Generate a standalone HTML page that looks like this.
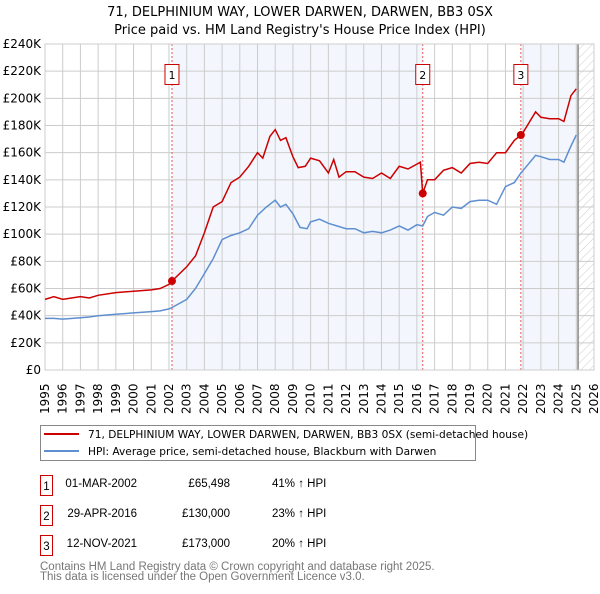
<!DOCTYPE html>
<html><head><meta charset="utf-8"><style>
body{margin:0;background:#fff;font-family:"DejaVu Sans","Liberation Sans",sans-serif;}
svg text{font-family:"DejaVu Sans","Liberation Sans",sans-serif;}
svg text.lib{font-family:"Liberation Sans",sans-serif;}
</style></head><body>
<svg id="chart" width="600" height="590" viewBox="0 0 600 590" xmlns="http://www.w3.org/2000/svg">
<defs><pattern id="hatch" width="6" height="6" patternUnits="userSpaceOnUse" patternTransform="rotate(45)"><line x1="0" y1="0" x2="0" y2="6" stroke="#ccc" stroke-width="1"/></pattern></defs>
<text x="300" y="16" text-anchor="middle" font-size="13">71, DELPHINIUM WAY, LOWER DARWEN, DARWEN, BB3 0SX</text>
<text x="300" y="34" text-anchor="middle" font-size="13">Price paid vs. HM Land Registry's House Price Index (HPI)</text>
<g id="bg"></g><g id="grid"></g><g id="axes"></g><g id="series"></g><g id="markers"></g>
<rect x="40.5" y="425.5" width="435" height="35" fill="#fff" stroke="#888"/>
<line x1="44" y1="434" x2="79" y2="434" stroke="#cc0000" stroke-width="2"/>
<text x="88" y="438" font-size="10.6">71, DELPHINIUM WAY, LOWER DARWEN, DARWEN, BB3 0SX (semi-detached house)</text>
<line x1="44" y1="451" x2="79" y2="451" stroke="#5f8fd0" stroke-width="2"/>
<text x="88" y="455" font-size="10.6">HPI: Average price, semi-detached house, Blackburn with Darwen</text>
<g font-size="11.5">
<rect x="40.5" y="475.5" width="12" height="20" fill="#fff" stroke="#cc0000"/><text class="lib" x="46.5" y="490" text-anchor="middle">1</text>
<text class="lib" x="137" y="487" text-anchor="end">01-MAR-2002</text>
<text class="lib" x="230" y="487" text-anchor="end">£65,498</text>
<text class="lib" x="272" y="487">41% ↑ HPI</text>
<rect x="40.5" y="505.5" width="12" height="20" fill="#fff" stroke="#cc0000"/><text class="lib" x="46.5" y="520" text-anchor="middle">2</text>
<text class="lib" x="137" y="517" text-anchor="end">29-APR-2016</text>
<text class="lib" x="230" y="517" text-anchor="end">£130,000</text>
<text class="lib" x="272" y="517">23% ↑ HPI</text>
<rect x="40.5" y="535.5" width="12" height="20" fill="#fff" stroke="#cc0000"/><text class="lib" x="46.5" y="550" text-anchor="middle">3</text>
<text class="lib" x="137" y="547" text-anchor="end">12-NOV-2021</text>
<text class="lib" x="230" y="547" text-anchor="end">£173,000</text>
<text class="lib" x="272" y="547">20% ↑ HPI</text>
</g>
<text class="lib" x="40" y="570" font-size="11.5" fill="#777">Contains HM Land Registry data © Crown copyright and database right 2025.</text>
<text class="lib" x="40" y="580" font-size="11.5" fill="#777">This data is licensed under the Open Government Licence v3.0.</text>
</svg>
<script>
const yTicks=[0,20,40,60,80,100,120,140,160,180,200,220,240];
const xYears=[1995,1996,1997,1998,1999,2000,2001,2002,2003,2004,2005,2006,2007,2008,2009,2010,2011,2012,2013,2014,2015,2016,2017,2018,2019,2020,2021,2022,2023,2024,2025,2026];
const hpiT=[1995,1995.5,1996,1997,1997.5,1998,1999,2000,2001,2001.5,2002,2002.17,2003,2003.5,2004,2004.5,2005,2005.5,2006,2006.5,2007,2007.5,2007.7,2008,2008.3,2008.6,2009,2009.4,2009.8,2010,2010.5,2011,2011.5,2012,2012.5,2013,2013.5,2014,2014.5,2015,2015.5,2016,2016.33,2016.6,2017,2017.5,2018,2018.5,2019,2019.5,2020,2020.5,2021,2021.5,2021.87,2022,2022.7,2023,2023.5,2024,2024.3,2024.7,2025];
const hpiV=[38,38,37.5,38.5,39,40,41,42,43,43.5,45,46,52,60,71,82,96,99,101,104,114,120,122,125,120,122,115,105,104,109,111,108,106,104,104,101,102,101,103,106,103,107,106,113,116,114,120,119,124,125,125,122,135,138,145,147,158,157,155,155,153,165,173];
const redT=[1995,1995.5,1996,1997,1997.5,1998,1999,2000,2001,2001.5,2002,2002.17,2003,2003.5,2004,2004.5,2005,2005.5,2006,2006.5,2007,2007.3,2007.7,2008,2008.3,2008.6,2009,2009.3,2009.7,2010,2010.5,2011,2011.3,2011.6,2012,2012.5,2013,2013.5,2014,2014.5,2015,2015.5,2016.2,2016.33,2016.6,2017,2017.5,2018,2018.5,2019,2019.5,2020,2020.5,2021,2021.5,2021.87,2022,2022.7,2023,2023.5,2024,2024.3,2024.7,2025];
const redV=[52,54,52,54,53,55,57,58,59,60,63,65.5,76,84,101,120,124,138,142,150,160,156,172,177,169,171,157,149,150,156,154,145,155,142,146,146,142,141,145,141,150,148,153,130,140,140,147,149,145,152,153,152,160,160,169,173,175,190,186,185,185,183,202,207];
const sales=[{t:2002.17,v:65.5,l:"1"},{t:2016.33,v:130,l:"2"},{t:2021.87,v:173,l:"3"}];
const X0=45,X1=594,Y0=370,Y1=44;
const x=t=>X0+(t-1995)*(X1-X0)/31;
const y=v=>Y0-v*(Y0-Y1)/240;
const NS="http://www.w3.org/2000/svg";
function mk(p,tag,at){const e=document.createElementNS(NS,tag);for(const k in at)e.setAttribute(k,at[k]);document.getElementById(p).appendChild(e);return e;}
let r;
r=mk('bg','rect',{x:x(2002.17),y:Y1,width:x(2016.33)-x(2002.17),height:Y0-Y1,fill:'#eef3fc',opacity:0.7});


r=mk('bg','rect',{x:x(2021.87),y:Y1,width:x(2025.1)-x(2021.87),height:Y0-Y1,fill:'#eef3fc',opacity:0.7});


r=mk('bg','rect',{x:x(2025.1),y:Y1,width:X1-x(2025.1),height:Y0-Y1,fill:'url(#hatch)'});


yTicks.forEach(v=>{
 const l=mk('grid','line',{x1:X0,x2:X1,y1:y(v),y2:y(v),stroke:'#ccc'});
 
 
 const t=mk('axes','text',{x:X0-4,y:y(v)+4,'text-anchor':'end','font-size':12});
 
 
 t.textContent=v===0?'£0':'£'+v+'K';
});
xYears.forEach(yr=>{
 const l=mk('grid','line',{x1:x(yr),x2:x(yr),y1:Y1,y2:Y0,stroke:'#ccc'});
 
 
 const t=mk('axes','text',{x:0,y:0,'font-size':12,transform:`translate(${x(yr)+4},${Y0+44}) rotate(-90)`});
 
 
 t.textContent=yr;
});
r=mk('grid','line',{x1:x(2025.1),x2:x(2025.1),y1:Y1,y2:Y0,stroke:'#888','stroke-width':1.5});


sales.forEach(s=>{
 const l=mk('grid','line',{x1:x(s.t),x2:x(s.t),y1:Y1,y2:Y0,stroke:'#e55','stroke-dasharray':'2,2'});
 
 
});
function path(T,V,col,name){
 const d=T.map((t,i)=>(i?'L':'M')+x(t).toFixed(1)+','+y(V[i]).toFixed(1)).join('');
 const p=mk('series','path',{d:d,fill:'none',stroke:col,'stroke-width':1.5});
 
 
}
path(hpiT,hpiV,'#5f8fd0','hpi-line');
path(redT,redV,'#cc0000','price-paid-line');
sales.forEach(s=>{
 const c=mk('markers','circle',{cx:x(s.t),cy:y(s.v),r:4,fill:'#cc0000'});
 
 
 const b=mk('markers','rect',{x:x(s.t)-7,y:64.5,width:14,height:20,fill:'#fff',stroke:'#cc0000'});
 
 
 const t=mk('markers','text',{x:x(s.t),y:79,'text-anchor':'middle','font-size':11});
 
 
 t.textContent=s.l;
});
r=mk('axes','rect',{x:X0,y:Y1,width:X1-X0,height:Y0-Y1,fill:'none',stroke:'#ccc'});


</script>
</body></html>
